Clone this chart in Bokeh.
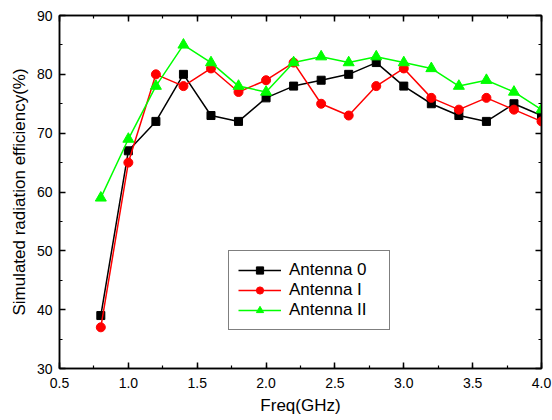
from bokeh.plotting import figure
from bokeh.models import (LinearAxis, Legend, LegendItem, SingleIntervalTicker, Range1d,
                          PrintfTickFormatter, CustomLabelingPolicy)
from bokeh.embed import file_html
from bokeh.resources import INLINE

freq = [0.8, 1.0, 1.2, 1.4, 1.6, 1.8, 2.0, 2.2, 2.4, 2.6, 2.8, 3.0, 3.2, 3.4, 3.6, 3.8, 4.0]
antenna_0 = [39, 67, 72, 80, 73, 72, 76, 78, 79, 80, 82, 78, 75, 73, 72, 75, 73]
antenna_1 = [37, 65, 80, 78, 81, 77, 79, 82, 75, 73, 78, 81, 76, 74, 76, 74, 72]
antenna_2 = [59, 69, 78, 85, 82, 78, 77, 82, 83, 82, 83, 82, 81, 78, 79, 77, 74]
series_names = ["Antenna 0", "Antenna I", "Antenna II"]

FONT = "Liberation Sans"

p = figure(width=552, height=420, output_backend="svg", toolbar_location=None,
           x_range=Range1d(0.5, 4.0), y_range=Range1d(30, 90),
           min_border_left=59, min_border_right=11, min_border_top=15, min_border_bottom=52)
p.xgrid.visible = False
p.ygrid.visible = False
p.outline_line_color = "black"
p.outline_line_width = 1.5
p.background_fill_color = "white"
p.border_fill_color = "white"

hide_labels = CustomLabelingPolicy(code="""
    const idx = [...indices]
    for (const i of idx) indices.unset(i)
    return indices
""")


def style_axis(ax, ticker, show_labels):
    ax.ticker = ticker
    ax.axis_line_color = "black"
    ax.axis_line_width = 1.5
    ax.major_tick_line_color = "black"
    ax.major_tick_line_width = 1.5
    ax.minor_tick_line_color = "black"
    ax.minor_tick_line_width = 1.2
    ax.major_tick_in = 6
    ax.major_tick_out = 0
    ax.minor_tick_in = 3
    ax.minor_tick_out = 0
    if show_labels:
        ax.major_label_text_font = FONT
        ax.major_label_text_font_size = "14px"
        ax.major_label_text_color = "black"
        ax.axis_label_text_font = FONT
        ax.axis_label_text_font_size = "17px"
        ax.axis_label_text_font_style = "normal"
        ax.axis_label_text_color = "black"
    else:
        ax.major_label_policy = hide_labels
        ax.major_label_text_font_size = "1px"
        ax.major_label_standoff = 0
        ax.axis_label_standoff = 0


xt = SingleIntervalTicker(interval=0.5, num_minor_ticks=2)
yt = SingleIntervalTicker(interval=10, num_minor_ticks=2)

style_axis(p.xaxis[0], xt, True)
p.xaxis[0].formatter = PrintfTickFormatter(format="%.1f")
p.xaxis[0].axis_label = "Freq(GHz)"
p.xaxis[0].major_label_standoff = 9
p.xaxis[0].axis_label_standoff = 5

style_axis(p.yaxis[0], yt, True)
p.yaxis[0].axis_label = "Simulated radiation efficiency(%)"
p.yaxis[0].major_label_standoff = 7
p.yaxis[0].axis_label_standoff = 5

top = LinearAxis()
style_axis(top, SingleIntervalTicker(interval=0.5, num_minor_ticks=2), False)
p.add_layout(top, "above")
right = LinearAxis()
style_axis(right, SingleIntervalTicker(interval=10, num_minor_ticks=2), False)
p.add_layout(right, "right")

colors = ["black", "#ff0000", "#00ff00"]
markers = ["square", "circle", "triangle"]
sizes = [8, 9, 11]
data = [antenna_0, antenna_1, antenna_2]

items = []
for name, ys, c, m, s in zip(series_names, data, colors, markers, sizes):
    ln = p.line(freq, ys, line_color=c, line_width=1.5)
    sc = p.scatter(freq, ys, marker=m, size=s, fill_color=c, line_color=c)
    items.append(LegendItem(label=name, renderers=[ln, sc]))

legend = Legend(items=items, location=(169, 38),
                label_text_font=FONT, label_text_font_size="17px", label_text_color="black",
                glyph_width=43, glyph_height=18, label_height=18, label_width=91, spacing=0,
                padding=9, label_standoff=8, margin=0,
                border_line_color="black", border_line_width=1.2,
                background_fill_color="white", background_fill_alpha=1)
p.add_layout(legend, "center")

open("out.html", "w").write(file_html(p, INLINE))
